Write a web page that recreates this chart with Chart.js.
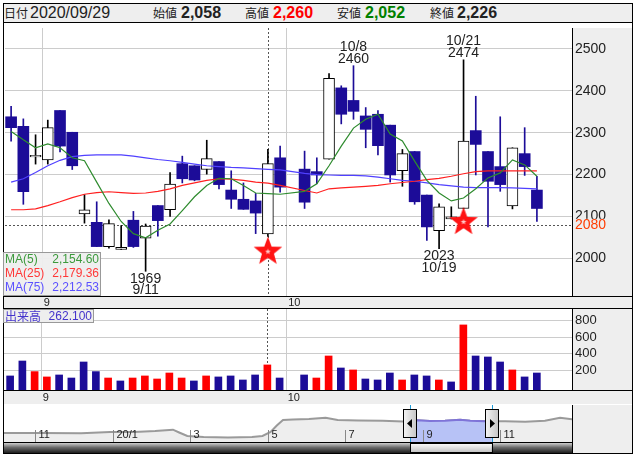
<!DOCTYPE html>
<html>
<head>
<meta charset="utf-8">
<script src="https://cdn.jsdelivr.net/npm/chart.js@4.4.1/dist/chart.umd.min.js"></script>
<style>
  body { margin: 0; width: 638px; height: 457px; background: #fff; position: relative; overflow: hidden; }
  #frame { position: absolute; left: 3px; top: 3px; width: 630px; height: 451px; border: 1px solid #000; box-sizing: border-box; }
  #hdr { position: absolute; left: 4px; top: 4px; width: 628px; height: 19px; background: #eeeeee; border-bottom: 1px solid #000; box-sizing: border-box; color: #222; }
  #hdr span { position: absolute; top: 0; line-height: 18px; white-space: nowrap; }
  .jp { font: 12px "Noto Sans CJK JP", sans-serif; }
  .num { font: 16px "Liberation Sans", Arial, sans-serif; }
  .val { font: bold 16px "Liberation Sans", Arial, sans-serif; }
  canvas { position: absolute; left: 0; }
  #main { top: 23px; }
  #vol { top: 309px; }
  #nav { top: 405px; }
</style>
</head>
<body>
<div id="frame"></div>
<div id="hdr">
  <span class="jp" style="left:0">日付</span><span class="num" id="hDate" style="left:26px"></span>
  <span class="jp" style="left:149px">始値</span><span class="val" id="hOpen" style="left:177px"></span>
  <span class="jp" style="left:241px">高値</span><span class="val" id="hHigh" style="left:269px;color:#ff0000"></span>
  <span class="jp" style="left:333px">安値</span><span class="val" id="hLow" style="left:361px;color:#008000"></span>
  <span class="jp" style="left:426px">終値</span><span class="val" id="hClose" style="left:453px"></span>
</div>
<canvas id="main" width="638" height="286"></canvas>
<canvas id="vol" width="638" height="95"></canvas>
<canvas id="nav" width="638" height="48"></canvas>
<script>
// ---- data (2020, daily) ----
const dates = ['8/27','8/28','8/31','9/1','9/2','9/3','9/4','9/7','9/8','9/9','9/10','9/11','9/14','9/15','9/16',
  '9/17','9/18','9/23','9/24','9/25','9/28','9/29','9/30','10/1','10/2','10/5','10/6','10/7','10/8','10/9','10/12',
  '10/13','10/14','10/15','10/16','10/19','10/20','10/21','10/22','10/23','10/26','10/27','10/28','10/29'];
const opens  = [2338,2315,2242,2235,2353,2301,2106,2086,2028,2021,2091,2048,2126,2116,2226,2221,2212,2231,2163,2141,2137,2058,2240,null,
  2213,2207,2237,2407,2377,2340,2344,2318,2209,2255,2151,2066,2094,2119,2305,2255,2219,2125,2250,2163];
const highs  = [2363,2333,2295,2330,2353,2301,2152,2135,2092,2078,2112,2082,2126,2205,2244,2221,2282,2231,2209,2180,2155,2260,2268,null,
  2256,2240,2441,2412,2460,2360,2353,2318,2260,2255,2151,2130,2123,2474,2387,2255,2338,2264,2312,2196];
const lows   = [2280,2129,2225,2225,2254,2212,2084,2028,2024,2021,2026,1969,2053,2100,2180,2185,2201,2166,2119,2117,2059,2052,2158,null,
  2119,2178,2237,2321,2332,2264,2247,2182,2172,2129,2043,2023,2094,2119,2199,2075,2160,2118,2198,2088];
const closes = [2312,2159,2246,2312,2268,2221,2116,2028,2083,2026,2028,2077,2090,2177,2190,2187,2238,2176,2141,2117,2108,2226,2170,null,
  2134,2199,2430,2344,2351,2308,2269,2199,2250,2135,2075,2123,2099,2280,2272,2184,2176,2264,2219,2119];
const volume = [128,310,181,116,140,103,298,181,103,67,103,128,91,164,103,67,128,116,128,79,140,262.1,103,null,
  140,103,371,225,201,91,79,164,79,140,128,79,55,749,371,359,298,201,116,164];
const ma5  = [2303,2283,2264,2273,2264,2240,2233,2182,2131,2088,2059,2049,2067,2082,2114,2147,2174,2191,2190,2174,2156,2154.60,2153,null,
  2160,2178,2221,2268,2311,2332,2344,2297,2280,2232,2186,2156,2137,2144,2166,2192,2204,2235,2223,2196];
const ma25 = [2116,2116,2118,2126,2135,2145,2153,2157,2159,2157,2155,2156,2160,2166,2174,2180,2186,2190,2189,2186,2182,2179.36,2174,null,
  2162,2156,2166,2168,2170,2172,2174,2178,2181,2184,2188,2191,2196,2202,2207,2209,2209,2209,2209,2209];
const ma75 = [2182,2190,2205,2221,2234,2243,2246,2247,2247,2247,2244,2240,2236,2233,2229,2225,2221,2219,2217,2216,2214,2212.53,2211,null,
  2203,2200,2199,2198,2198,2197,2194,2190,2186,2184,2180,2176,2173,2170,2169,2169,2169,2168,2167,2166];
const priceTicks = [2000,2100,2200,2300,2400,2500];
const volTicks = [200,400,600,800];
const crossIdx = 21, crossPrice = 2080;
const marks = [[11,'low'],[28,'high'],[35,'low'],[37,'high']];
const starIdx = [21,37], starPrice = [2016,2087];
// navigator: months from 2019-11, price history
const navMonth = [-0.8,0.15,1.19,1.94,2.56,3.1,3.56,3.72,3.93,4.35,4.98,5.6,5.87,6.08,6.24,6.4,6.66,7.07,7.5,7.81,8.34,8.97,9.5,
  9.86,10.19,10.58,10.97,11.23,11.61,12.13,12.65,13.16,13.55,13.86];
const navPrice = [1000,1010,980,1100,1110,1200,1330,1050,700,600,560,600,700,1100,1750,2300,2350,2400,2520,2290,2260,2230,2160,
  2270,2200,2233,2333,2233,2167,2167,2133,2233,2533,2367];
const navTicks = [0,2,4,6,8,10,12];
const navTickLabels = ['11','20/1','3','5','7','9','11'];
const navSel = [9.68, 11.79];

const NAVY = '#1c0c98';
const SANS = '"Liberation Sans", Arial, sans-serif';
const JP = '"Noto Sans CJK JP", sans-serif';
const fmt = (v, d) => v.toLocaleString('en-US', {minimumFractionDigits: d, maximumFractionDigits: d});

const isUp = i => closes[i] >= opens[i];
function volUp(i) {
  let p = i - 1;
  while (p >= 0 && closes[p] == null) p--;
  return p < 0 ? isUp(i) : closes[i] >= closes[p];
}

const bodies = [], wicks = [], vols = [];
dates.forEach((d, i) => {
  if (opens[i] == null) return;
  bodies.push({x: i, y: [opens[i], closes[i]]});
  wicks.push({x: i, y: [lows[i], highs[i]]});
  vols.push({x: i, y: volume[i]});
});
const pts = arr => arr.map((v, i) => ({x: i, y: v}));

// month breaks from the dates
const monthBreaks = [];
dates.forEach((d, i) => {
  if (i > 0 && d.split('/')[0] !== dates[i-1].split('/')[0]) monthBreaks.push({v: i - 0.5, label: d.split('/')[0]});
});

// header
const pad2 = s => s.padStart(2, '0');
const [cm, cd] = dates[crossIdx].split('/');
document.getElementById('hDate').textContent = '2020/' + pad2(cm) + '/' + pad2(cd);
document.getElementById('hOpen').textContent = fmt(opens[crossIdx], 0);
document.getElementById('hHigh').textContent = fmt(highs[crossIdx], 0);
document.getElementById('hLow').textContent = fmt(lows[crossIdx], 0);
document.getElementById('hClose').textContent = fmt(closes[crossIdx], 0);

function makeStar(r) {
  const c = document.createElement('canvas');
  c.width = c.height = r * 2 + 2;
  const g = c.getContext('2d');
  const star = (R, rr, col) => {
    g.beginPath();
    for (let k = 0; k < 10; k++) {
      const a = -Math.PI / 2 + k * Math.PI / 5, rad = k % 2 ? rr : R;
      g.lineTo(r + 1 + rad * Math.cos(a), r + 1 + rad * Math.sin(a));
    }
    g.closePath(); g.fillStyle = col; g.fill();
  };
  star(r, r * 0.42, '#ff1414');
  star(3, 1.3, 'rgba(255,220,220,0.9)');
  return c;
}

function panelCommon(ch, stripH) {
  const {ctx, chartArea: a} = ch;
  ctx.save();
  ctx.fillStyle = '#eeeeee';
  ctx.fillRect(a.right, a.top, 632 - a.right, a.bottom - a.top);
  ctx.fillRect(4, a.bottom, 628, stripH);
  ctx.restore();
}
function monthGrid(ch) {
  const {ctx, chartArea: a, scales: {x}} = ch;
  ctx.save();
  ctx.strokeStyle = '#cccccc'; ctx.lineWidth = 1;
  monthBreaks.forEach(b => {
    const px = Math.round(x.getPixelForValue(b.v)) + 0.5;
    ctx.beginPath(); ctx.moveTo(px, a.top); ctx.lineTo(px, a.bottom); ctx.stroke();
  });
  ctx.setLineDash([2, 2]); ctx.strokeStyle = '#555';
  const cx = Math.round(x.getPixelForValue(crossIdx)) + 0.5;
  ctx.beginPath(); ctx.moveTo(cx, a.top); ctx.lineTo(cx, a.bottom); ctx.stroke();
  ctx.restore();
}
function stripAndBorders(ch, stripH) {
  const {ctx, chartArea: a, scales: {x}} = ch;
  ctx.save();
  ctx.fillStyle = '#222'; ctx.font = '11px ' + SANS; ctx.textBaseline = 'middle'; ctx.textAlign = 'left';
  monthBreaks.forEach(b => ctx.fillText(b.label, x.getPixelForValue(b.v) + 2, a.bottom + stripH / 2 + 0.5));
  ctx.strokeStyle = '#000'; ctx.lineWidth = 1;
  ctx.beginPath();
  ctx.moveTo(a.right + 0.5, a.top); ctx.lineTo(a.right + 0.5, a.bottom);
  ctx.moveTo(4, a.bottom + 0.5); ctx.lineTo(632, a.bottom + 0.5);
  ctx.moveTo(4, a.bottom + stripH + 0.5); ctx.lineTo(632, a.bottom + stripH + 0.5);
  ctx.stroke();
  ctx.restore();
}

// ---- main price chart ----
const mainDeco = {
  id: 'mainDeco',
  beforeDraw(ch) { panelCommon(ch, 12); },
  beforeDatasetsDraw(ch) {
    monthGrid(ch);
    const {ctx, chartArea: a, scales: {y}} = ch;
    const cy = Math.round(y.getPixelForValue(crossPrice)) + 0.5;
    ctx.save(); ctx.setLineDash([2, 2]); ctx.strokeStyle = '#555';
    ctx.beginPath(); ctx.moveTo(a.left, cy); ctx.lineTo(a.right, cy); ctx.stroke();
    ctx.restore();
  },
  afterDatasetsDraw(ch) {
    const {ctx, chartArea: a, scales: {x, y}} = ch;
    ctx.save();
    // high / low notes
    ctx.font = '14px ' + SANS; ctx.fillStyle = '#222'; ctx.textAlign = 'center'; ctx.textBaseline = 'middle';
    marks.forEach(([i, side]) => {
      const px = x.getPixelForValue(i);
      if (side === 'high') {
        const py = y.getPixelForValue(highs[i]);
        ctx.fillText(String(highs[i]), px, py - 6.5);
        ctx.fillText(dates[i], px, py - 18.5);
      } else {
        const py = y.getPixelForValue(lows[i]);
        ctx.fillText(String(lows[i]), px, py + 7.5);
        ctx.fillText(dates[i], px, py + 19);
      }
    });
    // MA legend box
    ctx.fillStyle = 'rgba(238,238,238,0.95)'; ctx.fillRect(3, a.bottom - 44, 98, 44);
    ctx.strokeStyle = '#999'; ctx.strokeRect(3.5, a.bottom - 43.5, 97, 43);
    ctx.font = '12px ' + SANS;
    [['MA(5)', ma5, '#3c9a3c'], ['MA(25)', ma25, '#ff3838'], ['MA(75)', ma75, '#5b50ff']].forEach(([n, arr, c], k) => {
      const ty = a.bottom - 36 + k * 14;
      ctx.fillStyle = c;
      ctx.textAlign = 'left'; ctx.fillText(n, 5, ty);
      ctx.textAlign = 'right'; ctx.fillText(fmt(arr[crossIdx], 2), 99, ty);
    });
    // current price tag on axis
    const cy = y.getPixelForValue(crossPrice);
    ctx.fillStyle = '#eeeeee'; ctx.fillRect(a.right + 1, cy - 6, 632 - a.right - 1, 13);
    ctx.fillStyle = '#ff3c00'; ctx.font = '14px ' + SANS; ctx.textAlign = 'left';
    ctx.fillText(String(crossPrice), a.right + 3, cy + 0.5);
    ctx.restore();
    stripAndBorders(ch, 12);
  }
};

new Chart(document.getElementById('main'), {
  type: 'bar',
  data: {
    datasets: [
      {type: 'line', data: starIdx.map((i, k) => ({x: i, y: starPrice[k]})), showLine: false, pointStyle: makeStar(15), order: 0},
      {type: 'line', data: pts(ma5), borderColor: '#2e8b2e', borderWidth: 1.2, pointRadius: 0, spanGaps: true, order: 1},
      {type: 'line', data: pts(ma25), borderColor: '#ff2020', borderWidth: 1.2, pointRadius: 0, spanGaps: true, order: 1},
      {type: 'line', data: pts(ma75), borderColor: '#5040ff', borderWidth: 1.2, pointRadius: 0, spanGaps: true, order: 1},
      {data: bodies, grouped: false, barThickness: 11, borderSkipped: false, order: 2,
        backgroundColor: c => (c.raw && isUp(c.raw.x)) ? '#ffffff' : NAVY,
        borderColor: '#000',
        borderWidth: c => (c.raw && isUp(c.raw.x)) ? 1 : 0},
      {data: wicks, grouped: false, barThickness: 1, borderWidth: 0, order: 3,
        backgroundColor: c => (c.raw && isUp(c.raw.x)) ? '#000' : NAVY}
    ]
  },
  options: {
    animation: false, responsive: false,
    layout: {padding: {left: 4, top: 0, right: 0, bottom: 13}},
    plugins: {legend: {display: false}, tooltip: {enabled: false}},
    scales: {
      x: {type: 'linear', display: false, offset: false, min: -0.5, max: 45.87},
      y: {position: 'right', min: 1910, max: 2550,
        afterBuildTicks: s => { s.ticks = priceTicks.map(v => ({value: v})); },
        afterFit: s => { s.width = 66; s.paddingTop = 0; s.paddingBottom = 0; },
        grid: {color: '#cccccc', drawTicks: false}, border: {display: false},
        ticks: {padding: 3, color: '#222', font: {family: SANS, size: 14}, callback: v => String(v)}}
    }
  },
  plugins: [mainDeco]
});

// ---- volume chart ----
const volDeco = {
  id: 'volDeco',
  beforeDraw(ch) { panelCommon(ch, 14); },
  beforeDatasetsDraw(ch) { monthGrid(ch); },
  afterDatasetsDraw(ch) {
    const {ctx, chartArea: a} = ch;
    ctx.save();
    ctx.fillStyle = '#eeeeee'; ctx.fillRect(3, a.top, 91, 14);
    ctx.strokeStyle = '#999'; ctx.strokeRect(3.5, a.top + 0.5, 90, 13);
    ctx.fillStyle = '#4433cc'; ctx.textBaseline = 'middle';
    ctx.font = '12px ' + JP; ctx.fillText('出来高', 5, a.top + 7);
    ctx.font = '12px ' + SANS; ctx.textAlign = 'right'; ctx.fillText(volume[crossIdx].toFixed(3), 92, a.top + 7.5);
    ctx.restore();
    stripAndBorders(ch, 14);
  }
};

new Chart(document.getElementById('vol'), {
  type: 'bar',
  data: {
    datasets: [
      {data: vols, grouped: false, barThickness: 7, borderWidth: 0, base: -43,
        backgroundColor: c => (c.raw && volUp(c.raw.x)) ? '#ff0000' : NAVY}
    ]
  },
  options: {
    animation: false, responsive: false,
    layout: {padding: {left: 4, top: 0, right: 0, bottom: 14}},
    plugins: {legend: {display: false}, tooltip: {enabled: false}},
    scales: {
      x: {type: 'linear', display: false, offset: false, min: -0.5, max: 45.87},
      y: {position: 'right', min: -43, max: 943,
        afterBuildTicks: s => { s.ticks = volTicks.map(v => ({value: v})); },
        afterFit: s => { s.width = 66; s.paddingTop = 0; s.paddingBottom = 0; },
        grid: {color: '#cccccc', drawTicks: false}, border: {display: false},
        ticks: {padding: 3, color: '#222', font: {family: SANS, size: 13}, callback: v => String(v)}}
    }
  },
  plugins: [volDeco]
});

// ---- navigator ----
const navDeco = {
  id: 'navDeco',
  beforeDraw(ch) {
    const {ctx, chartArea: a} = ch;
    ctx.save(); ctx.fillStyle = '#eeeeee'; ctx.fillRect(a.right, a.top, 632 - a.right, 48); ctx.restore();
  },
  afterDatasetsDraw(ch) {
    const {ctx, chartArea: a, scales: {x}} = ch;
    const l = x.getPixelForValue(navSel[0]), r = x.getPixelForValue(navSel[1]);
    const P = ch.getDatasetMeta(0).data;
    ctx.save();
    // selected window: area under the same line, tinted
    ctx.beginPath(); ctx.rect(l, a.top, r - l, a.bottom - a.top); ctx.clip();
    ctx.beginPath();
    P.forEach((p, k) => k ? ctx.lineTo(p.x, p.y) : ctx.moveTo(p.x, p.y));
    ctx.lineTo(P[P.length - 1].x, a.bottom); ctx.lineTo(P[0].x, a.bottom); ctx.closePath();
    ctx.fillStyle = '#b7c2f6'; ctx.fill();
    ctx.beginPath();
    P.forEach((p, k) => k ? ctx.lineTo(p.x, p.y) : ctx.moveTo(p.x, p.y));
    ctx.strokeStyle = '#7f74d8'; ctx.lineWidth = 2; ctx.stroke();
    ctx.restore();

    ctx.save();
    ctx.font = '11px ' + SANS; ctx.fillStyle = '#222'; ctx.textBaseline = 'middle';
    ctx.strokeStyle = '#888';
    navTicks.forEach((m, k) => {
      const px = Math.round(x.getPixelForValue(m)) + 0.5;
      ctx.beginPath(); ctx.moveTo(px, a.bottom - 12); ctx.lineTo(px, a.bottom); ctx.stroke();
      ctx.fillText(navTickLabels[k], px + 3, a.bottom - 7);
    });
    // scrollbar
    const sy = a.bottom + 1, sh = 10;
    const tg = ctx.createLinearGradient(0, sy, 0, sy + sh);
    tg.addColorStop(0, '#cfcfcf'); tg.addColorStop(0.45, '#6a6a6a'); tg.addColorStop(1, '#1c1c1c');
    ctx.fillStyle = tg; ctx.fillRect(a.left, sy, a.right - a.left, sh);
    const hg = ctx.createLinearGradient(0, sy, 0, sy + sh);
    hg.addColorStop(0, '#ffffff'); hg.addColorStop(1, '#bdbdbd');
    ctx.fillStyle = hg; ctx.fillRect(l, sy, r - l, sh);
    ctx.strokeStyle = '#000'; ctx.strokeRect(Math.round(l) + 0.5, sy + 0.5, Math.round(r - l), sh - 1);
    // selection edges
    ctx.strokeStyle = '#1e9ad6';
    [l, r].forEach(px => { ctx.beginPath(); ctx.moveTo(Math.round(px) + 0.5, a.top); ctx.lineTo(Math.round(px) + 0.5, a.bottom); ctx.stroke(); });
    // handles
    [[l, -1], [r, 1]].forEach(([px, dir]) => {
      const hx = Math.round(px) - 7, hy = a.top + 4;
      const g = ctx.createLinearGradient(hx, 0, hx + 14, 0);
      g.addColorStop(0, '#f6f6f6'); g.addColorStop(1, '#c4c4c4');
      ctx.fillStyle = g; ctx.fillRect(hx, hy, 14, 29);
      ctx.strokeStyle = '#000'; ctx.strokeRect(hx + 0.5, hy + 0.5, 13, 28);
      const cx = hx + 7, cy = hy + 14.5;
      ctx.fillStyle = '#000'; ctx.beginPath();
      ctx.moveTo(cx + dir * 3, cy); ctx.lineTo(cx - dir * 2, cy - 4.5); ctx.lineTo(cx - dir * 2, cy + 4.5);
      ctx.closePath(); ctx.fill();
    });
    // borders
    ctx.strokeStyle = '#000';
    ctx.beginPath();
    ctx.moveTo(a.right + 0.5, a.top); ctx.lineTo(a.right + 0.5, a.bottom + 11);
    ctx.moveTo(4, a.bottom + 0.5); ctx.lineTo(a.right, a.bottom + 0.5);
    ctx.stroke();
    ctx.restore();
  }
};

const navPts = navMonth.map((m, i) => ({x: m, y: navPrice[i]}));
new Chart(document.getElementById('nav'), {
  type: 'line',
  data: {
    datasets: [
      {data: navPts, borderColor: '#9a9a9a', borderWidth: 2, pointRadius: 0, fill: 'start', backgroundColor: '#eeeeee', tension: 0}
    ]
  },
  options: {
    animation: false, responsive: false,
    layout: {padding: {left: 4, top: 0, right: 66, bottom: 11}},
    plugins: {legend: {display: false}, tooltip: {enabled: false}},
    scales: {
      x: {type: 'linear', display: false, min: -0.8, max: 13.858},
      y: {display: false, min: 100, max: 3800}
    }
  },
  plugins: [navDeco]
});
</script>
</body>
</html>
